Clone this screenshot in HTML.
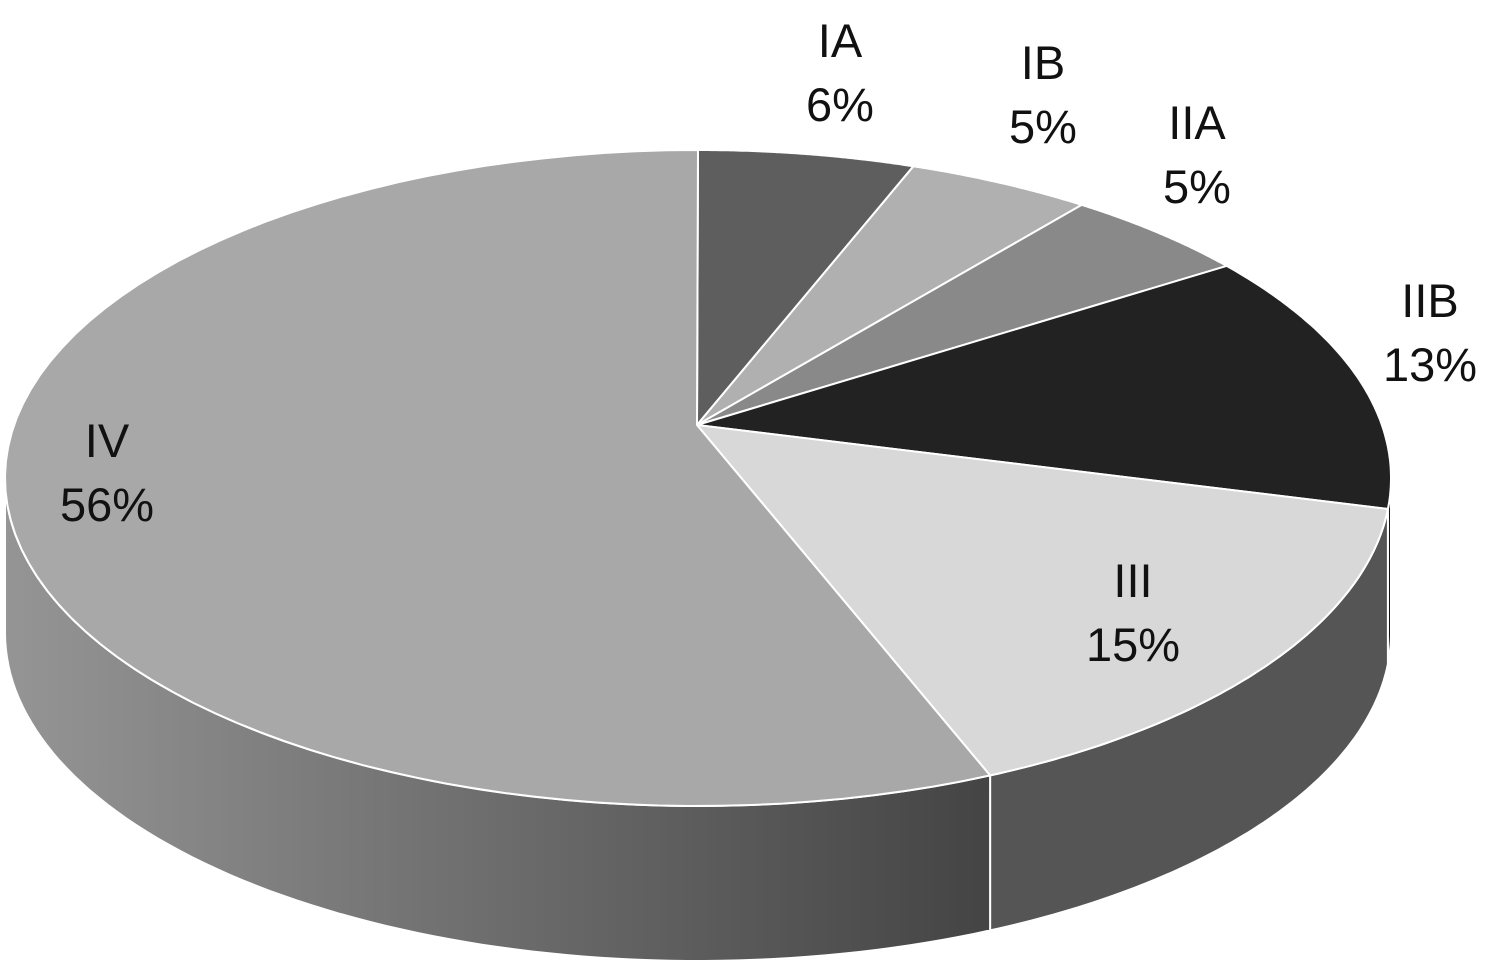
<!DOCTYPE html>
<html><head><meta charset="utf-8"><style>
html,body{margin:0;padding:0;background:#fff;width:1486px;height:967px;overflow:hidden}
text{font-family:"Liberation Sans",sans-serif;font-size:47px;fill:#111}
</style></head><body>
<svg id="chart" width="1486" height="967" viewBox="0 0 1486 967" xmlns="http://www.w3.org/2000/svg">
<defs>
<linearGradient id="gIV" x1="0" x2="1" y1="0" y2="0">
<stop offset="0" stop-color="#959595"/><stop offset="1" stop-color="#444"/>
</linearGradient>
</defs>
<g id="sides"></g>
<g id="tops"></g>
<g id="labels"></g>
</svg>
<script>
const categories = ["IA","IB","IIA","IIB","III","IV"];
const values = [6,5,5,13,15,56];
const labelText = ["6%","5%","5%","13%","15%","56%"];
const topColors = ["#5e5e5e","#b0b0b0","#898989","#222222","#d8d8d8","#a8a8a8"];
const sideColors = ["#3e3e3e","#7a7a7a","#5e5e5e","#161616","#555555","url(#gIV)"];
const labelPos = [[840,40],[1043,62],[1197,122],[1430,300],[1133,580],[107,440]];

const cx=698, cy=478, rx=693, ry=328, depth=155;
const ax=697, ay=425;
const NS="http://www.w3.org/2000/svg";
const total = values.reduce((a,b)=>a+b,0);
const an=[(ax-cx)/rx,(ay-cy)/ry];
function paramAngle(f){
  if(f<=1e-9) return 0;
  if(f>=1-1e-9) return 2*Math.PI;
  const th=2*Math.PI*f;
  const d=[Math.sin(th),-Math.cos(th)];
  const ad=an[0]*d[0]+an[1]*d[1];
  const aa=an[0]*an[0]+an[1]*an[1];
  const s=-ad+Math.sqrt(ad*ad-aa+1);
  const p=[an[0]+s*d[0],an[1]+s*d[1]];
  let t=Math.atan2(p[0],-p[1]); if(t<0) t+=2*Math.PI;
  return t;
}
function pt(t,off){return [cx+rx*Math.sin(t), cy-ry*Math.cos(t)+(off||0)];}
function arc(t0,t1,off){const n=80,a=[];for(let i=0;i<=n;i++){a.push(pt(t0+(t1-t0)*i/n,off));}return a;}
const sides=document.getElementById('sides'), tops=document.getElementById('tops'), labels=document.getElementById('labels');
let cum=0;
values.forEach((v,i)=>{
  const t0=paramAngle(cum/total); cum+=v; const t1=paramAngle(cum/total);
  const s0=Math.max(t0,Math.PI/2), s1=Math.min(t1,3*Math.PI/2);
  if(s1>s0){
    const a=arc(s0,s1,0), b=arc(s0,s1,depth).reverse();
    const p=document.createElementNS(NS,'path');
    p.setAttribute('d','M'+a.concat(b).map(q=>q[0].toFixed(1)+','+q[1].toFixed(1)).join('L')+'Z');
    p.setAttribute('fill',sideColors[i]);p.setAttribute('stroke','#fff');p.setAttribute('stroke-width','2');
    
    
    sides.appendChild(p);
  }
  const a=arc(t0,t1,0);
  const p=document.createElementNS(NS,'path');
  p.setAttribute('d','M'+ax+','+ay+'L'+a.map(q=>q[0].toFixed(1)+','+q[1].toFixed(1)).join('L')+'Z');
  p.setAttribute('fill',topColors[i]);p.setAttribute('stroke','#fff');p.setAttribute('stroke-width','2');p.setAttribute('stroke-linejoin','round');
  
  
  tops.appendChild(p);
  const g=document.createElementNS(NS,'text');
  g.setAttribute('x',labelPos[i][0]);g.setAttribute('y',labelPos[i][1]+17);g.setAttribute('text-anchor','middle');
  
  
  const l1=document.createElementNS(NS,'tspan');l1.setAttribute('x',labelPos[i][0]);l1.textContent=categories[i];
  const l2=document.createElementNS(NS,'tspan');l2.setAttribute('x',labelPos[i][0]);l2.setAttribute('dy','64');l2.textContent=labelText[i];
  g.appendChild(l1);g.appendChild(l2);labels.appendChild(g);
});
</script>
</body></html>
